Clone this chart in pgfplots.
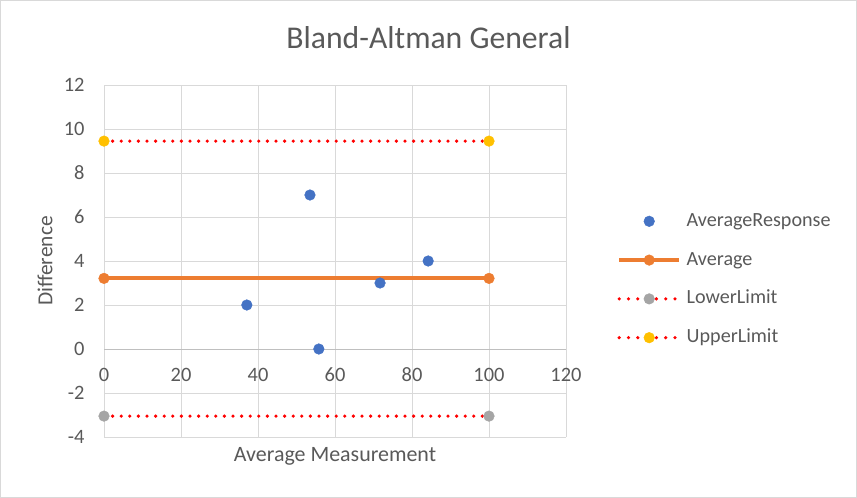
\documentclass[border=0pt]{standalone}
\usepackage{pgfplots}
\pgfplotsset{compat=1.18}
\usepackage{fontspec}
\setmainfont{Carlito}
\definecolor{cblue}{HTML}{4472C4}
\definecolor{corange}{HTML}{ED7D31}
\definecolor{cgray}{HTML}{A5A5A5}
\definecolor{cyellow}{HTML}{FFC000}
\definecolor{textgray}{HTML}{595959}
\definecolor{gridgray}{HTML}{D9D9D9}
\definecolor{axisgray}{HTML}{BFBFBF}
\definecolor{framegray}{HTML}{D9D9D9}
\begin{document}
\begin{tikzpicture}
\useasboundingbox (0,0) rectangle (857bp,-498bp);
\draw[color=framegray, line width=1bp] (0.5bp,-0.5bp) rectangle (856.5bp,-497.5bp);
\node[anchor=base, text=textgray, font=\fontsize{31.8}{36}\selectfont, inner sep=0pt] at (428.5bp,-48.3bp) {Bland-Altman General};
\begin{axis}[
  at={(104bp,-437bp)}, anchor=south west,
  scale only axis, width=462bp, height=352bp,
  xmin=0, xmax=120, ymin=-4, ymax=12,
  xtick={0,20,40,60,80,100,120},
  ytick={-4,-2,0,2,4,6,8,10,12},
  xticklabels={0,20,40,60,80,100,120},
  yticklabels={-4,-2,0,2,4,6,8,10,12},
  grid=major,
  major grid style={color=gridgray, line width=0.75bp},
  axis line style={draw=none},
  tick style={draw=none},
  major tick length=0pt,
  ticklabel style={text=textgray, font=\fontsize{20.5}{24}\selectfont},
  xticklabel style={anchor=center, yshift=62bp},
  yticklabel style={anchor=east, xshift=-16bp},
  extra y ticks={0},
  extra y tick labels={},
  extra y tick style={major grid style={color=axisgray, line width=1bp}},
  xlabel={Average Measurement},
  ylabel={Difference},
  every axis x label/.style={at={(axis description cs:0.5,-0.054)}, anchor=center, text=textgray, font=\fontsize{22}{26}\selectfont},
  every axis y label/.style={at={(axis description cs:-0.1277,0.5)}, rotate=90, anchor=center, text=textgray, font=\fontsize{21.5}{25}\selectfont},
  clip=false,
  legend image code/.code={\draw[mark repeat=2,mark phase=2,#1] plot coordinates {(0bp,0bp) (30bp,0bp) (60bp,0bp)};},
  legend style={at={(rel axis cs:1.1104,0.4475)}, anchor=west, draw=none, fill=none, inner sep=0pt,
    font=\fontsize{20.2}{24}\selectfont, text=textgray, row sep=16.8bp,
    nodes={text height=14bp, text depth=4bp, inner sep=2bp},
    /tikz/every odd column/.append style={column sep=3.5bp}},
  legend cell align=left,
]
\addlegendimage{only marks, mark=*, mark size=5.3bp, color=cblue, mark options={line width=0.5bp}}
\addlegendentry{AverageResponse}
\addlegendimage{color=corange, line width=4bp, mark=*, mark size=5.3bp, mark options={line width=0.5bp}}
\addlegendentry{Average}
\addlegendimage{color=red, line width=3.6bp, line cap=round, dash pattern=on 0bp off 9.3bp, mark=*, mark size=5.3bp, mark options={solid, line width=0.5bp, fill=cgray, draw=cgray}}
\addlegendentry{LowerLimit}
\addlegendimage{color=red, line width=3.6bp, line cap=round, dash pattern=on 0bp off 9.3bp, mark=*, mark size=5.3bp, mark options={solid, line width=0.5bp, fill=cyellow, draw=cyellow}}
\addlegendentry{UpperLimit}

\addplot[forget plot, color=corange, line width=4bp, mark=*, mark size=5.3bp, mark options={line width=0.5bp}] coordinates {(0,3.21) (100,3.21)};
\addplot[forget plot, color=red, line width=3.6bp, line cap=round, dash pattern=on 0bp off 8.6bp, mark=*, mark size=5.3bp, mark options={solid, line width=0.5bp, fill=cgray, draw=cgray}] coordinates {(0,-3.05) (100,-3.05)};
\addplot[forget plot, color=red, line width=3.6bp, line cap=round, dash pattern=on 0bp off 8.6bp, mark=*, mark size=5.3bp, mark options={solid, line width=0.5bp, fill=cyellow, draw=cyellow}] coordinates {(0,9.45) (100,9.45)};
\addplot[forget plot, only marks, mark=*, mark size=5.3bp, color=cblue, mark options={line width=0.5bp}] coordinates {(37.1,2) (53.5,7) (55.8,0) (71.7,3) (84.2,4)};
\end{axis}
\end{tikzpicture}
\end{document}
